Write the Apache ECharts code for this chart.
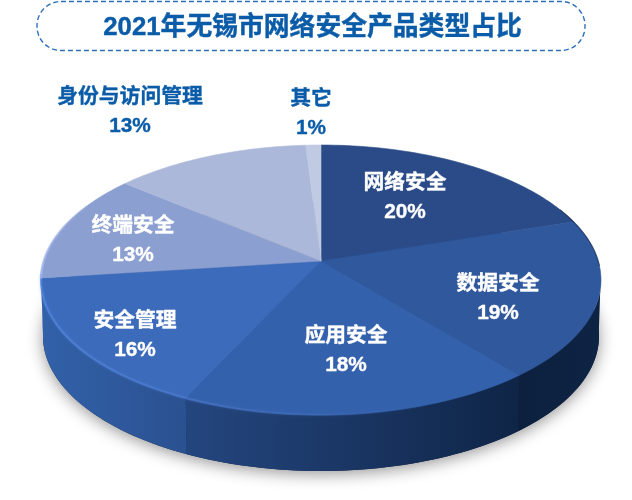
<!DOCTYPE html>
<html>
<head>
<meta charset="utf-8">
<style>html,body{margin:0;padding:0;background:#fff}#c{width:632px;height:500px}</style>
<script src="https://cdn.jsdelivr.net/npm/echarts@6/dist/echarts.min.js"></script>
</head>
<body>
<div id="c"></div>
<script>
const titleText = '2021年无锡市网络安全产品类型占比';
const categories = ['网络安全', '数据安全', '应用安全', '安全管理', '终端安全', '身份与访问管理', '其它'];
const shares = [20, 19, 18, 16, 13, 13, 1];

const topColors = ['#2a4b87', '#30589c', '#3461ab', '#3b6bba', '#8c9fd1', '#acb8d9', '#c1cae3'];
const wallColors = [
  ['#0d2240', '#0d2240'], ['#0e2444', '#0c203e'], ['#24467f', '#0f2547'],
  ['#3261a9', '#2a5190'], ['#3a6ab5', '#3a6ab5'], ['#8c9fd1', '#8c9fd1'], ['#acb8d9', '#acb8d9']
];
const labelColors = ['#fff', '#fff', '#fff', '#fff', '#fff', '#0b5ca8', '#0b5ca8'];
const labelAnchors = [[405, 197.5], [498, 299], [346, 351], [135, 336], [133, 241], [130, 112], [311, 114]];

// tilted-disc projection of a circle onto the page (top of the disc)
const cx = 321, cy = 261, sx = 277.2, sy = 132.3, persp = -0.1407, wallDepth = 56, wallShrink = 0.993;
function project(deg, depth) {
  const t = deg * Math.PI / 180, u = Math.sin(t), v = -Math.cos(t), w = 1 + persp * v;
  let X = sx * u / w, Y = sy * v / w;
  if (depth) { X *= wallShrink; Y += depth; }
  return [cx + X, cy + Y];
}
function arc(a, b, depth) {
  const n = Math.max(2, Math.ceil(Math.abs(b - a) / 1.5)), pts = [];
  for (let i = 0; i <= n; i++) pts.push(project(a + (b - a) * i / n, depth));
  return pts;
}
const total = shares.reduce((s, v) => s + v, 0);
const starts = [];
shares.reduce((acc, v, i) => { starts[i] = acc; return acc + v; }, 0);

function hGrad(x0, x1, c0, c1) {
  return new echarts.graphic.LinearGradient(x0, 0, x1, 0, [{offset: 0, color: c0}, {offset: 1, color: c1}], true);
}
function rim(a, b, width, stroke, blur, z2) {
  return {type: 'polyline', silent: true, z2: z2 || 4, shape: {points: arc(a, b, 0)},
    style: {fill: 'none', stroke: stroke, lineWidth: width, shadowBlur: blur || 0,
      shadowColor: 'rgba(90,140,225,0.5)', lineCap: 'round'}};
}

function renderItem(params, api) {
  const i = params.dataIndex, value = api.value(0);
  const a0 = starts[i] / total * 360, a1 = (starts[i] + value) / total * 360;
  const kids = [];
  if (i === 0) {
    kids.push({type: 'polygon', silent: true, z2: 0, shape: {points: arc(0, 360, wallDepth)},
      style: {fill: '#0e2343', shadowBlur: 16, shadowOffsetY: 3, shadowColor: 'rgba(0,0,0,0.42)'}});
    kids.push(rim(264, 118, 2, hGrad(41, 440, 'rgba(85,135,225,0.75)', 'rgba(80,125,210,0)'), 3));
    kids.push(rim(263, 296, 2.6, new echarts.graphic.LinearGradient(0, 190, 0, 280,
      [{offset: 0, color: 'rgba(170,190,235,0)'}, {offset: 1, color: 'rgba(160,182,238,0.85)'}], true)));
    kids.push(rim(66, 92, 1.2, 'rgba(14,32,62,0.55)'));
  }
  // visible front part of the wall
  const w0 = Math.max(a0, 96), w1 = Math.min(a1, 264);
  if (w1 > w0) {
    const top = arc(w0, w1, 0), bot = arc(w1, w0, wallDepth);
    const xs = top.concat(bot).map(p => p[0]);
    const minX = Math.min.apply(null, xs), maxX = Math.max.apply(null, xs);
    const c = wallColors[i];
    const flip = (i === 2 || i === 3) ? 0 : 1;
    kids.push({type: 'polygon', silent: true, z2: 1, shape: {points: top.concat(bot)},
      style: {fill: hGrad(minX, maxX, c[flip], c[1 - flip]), stroke: 'none'}});
  }
  // top face
  const pts = [[cx, cy]].concat(arc(a0, a1, 0));
  kids.push({type: 'polygon', silent: true, z2: 2, shape: {points: pts},
    style: {fill: topColors[i], stroke: topColors[i], lineWidth: 0.6, lineJoin: 'round'}});
  // label
  const [lx, ly] = labelAnchors[i];
  const font = 'bold 20.8px "Liberation Sans","Noto Sans CJK SC",sans-serif';
  [[categories[i], -14.5], [value + '%', 14.5]].forEach(function (row) {
    kids.push({type: 'text', silent: true, z2: 6, style: {x: lx, y: ly + row[1], text: row[0], fill: labelColors[i],
      stroke: labelColors[i], lineWidth: 0.35, font: font, align: 'center', verticalAlign: 'middle'}});
  });
  return {type: 'group', children: kids};
}

const chart = echarts.init(document.getElementById('c'), null, {renderer: 'canvas'});
chart.setOption({
  animation: false,
  backgroundColor: '#fff',
  title: {
    text: titleText, left: 307.5, textAlign: 'center', top: 9,
    textStyle: {color: '#0b5ca8', fontSize: 25.8, fontWeight: 'bold', lineHeight: 28,
      textBorderColor: '#0b5ca8', textBorderWidth: 0.4,
      fontFamily: '"Liberation Sans","Noto Sans CJK SC",sans-serif'}
  },
  graphic: [{
    type: 'rect', silent: true, shape: {x: 37, y: 1.5, width: 548, height: 49, r: 24},
    style: {fill: 'none', stroke: '#2b6fb8', lineWidth: 1.4, lineDash: [5, 3]}
  }],
  series: [{
    type: 'custom', coordinateSystem: 'none', renderItem: renderItem,
    data: shares.map((v, i) => ({name: categories[i], value: [v]}))
  }]
});
</script>
</body>
</html>
